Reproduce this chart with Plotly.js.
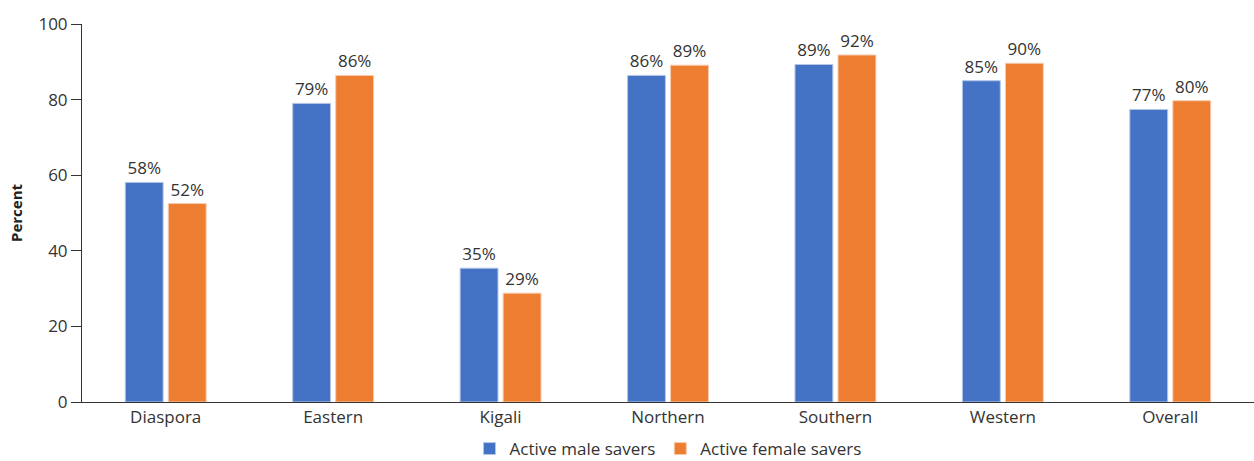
<!DOCTYPE html>
<html>
<head>
<meta charset="utf-8">
<script src="https://cdn.plot.ly/plotly-3.0.1.min.js"></script>
<style>html,body{margin:0;padding:0;background:#fff;}#chart{width:1254px;height:461px;}</style>
</head>
<body>
<div id="chart"></div>
<script>
const categories = ["Diaspora", "Eastern", "Kigali", "Northern", "Southern", "Western", "Overall"];
const maleSavers = [58.1, 79.0, 35.4, 86.4, 89.3, 85.0, 77.4];
const femaleSavers = [52.5, 86.4, 28.8, 89.1, 91.8, 89.6, 79.7];
const maleLabels = ["58%", "79%", "35%", "86%", "89%", "85%", "77%"];
const femaleLabels = ["52%", "86%", "29%", "89%", "92%", "90%", "80%"];
const yTicks = [0, 20, 40, 60, 80, 100];

const fontFam = "'Open Sans', sans-serif";
const fs = 17;

const traces = [
  {
    type: "bar", name: "Active male savers", x: categories, y: maleSavers,
    text: maleLabels, textposition: "outside", cliponaxis: false,
    textfont: {family: fontFam, size: fs, color: "#333"},
    marker: {color: "#4472C4", line: {color: "#b4c7e7", width: 1}},
    hoverinfo: "none"
  },
  {
    type: "bar", name: "Active female savers", x: categories, y: femaleSavers,
    text: femaleLabels, textposition: "outside", cliponaxis: false,
    textfont: {family: fontFam, size: fs, color: "#333"},
    marker: {color: "#ED7D31", line: {color: "#f8cbad", width: 1}},
    hoverinfo: "none"
  }
];

const layout = {
  width: 1254, height: 461,
  margin: {l: 82, r: 0, t: 24, b: 59, autoexpand: false},
  paper_bgcolor: "#fff", plot_bgcolor: "#fff",
  font: {family: fontFam, size: fs, color: "#333"},
  barmode: "group", bargap: 0.486, bargroupgap: 0.12,
  showlegend: true,
  legend: {orientation: "h", x: 0.5, xanchor: "center", y: -0.172, yanchor: "bottom",
           font: {family: fontFam, size: fs, color: "#333"}, traceorder: "normal"},
  xaxis: {
    showline: true, linecolor: "#333", linewidth: 1, ticks: "", showgrid: false,
    tickfont: {family: fontFam, size: fs, color: "#333"}, fixedrange: true
  },
  yaxis: {
    range: [0, 100], tickvals: yTicks, showline: true, linecolor: "#333", linewidth: 1,
    ticks: "outside", ticklen: 10, tickcolor: "#333", showgrid: false, zeroline: false,
    tickfont: {family: fontFam, size: fs, color: "#333"},
    title: {text: "<b>Percent</b>", font: {family: fontFam, size: 15, color: "#222"}, standoff: 12},
    fixedrange: true
  }
};

Plotly.newPlot("chart", traces, layout, {displayModeBar: false, staticPlot: true});
</script>
</body>
</html>
